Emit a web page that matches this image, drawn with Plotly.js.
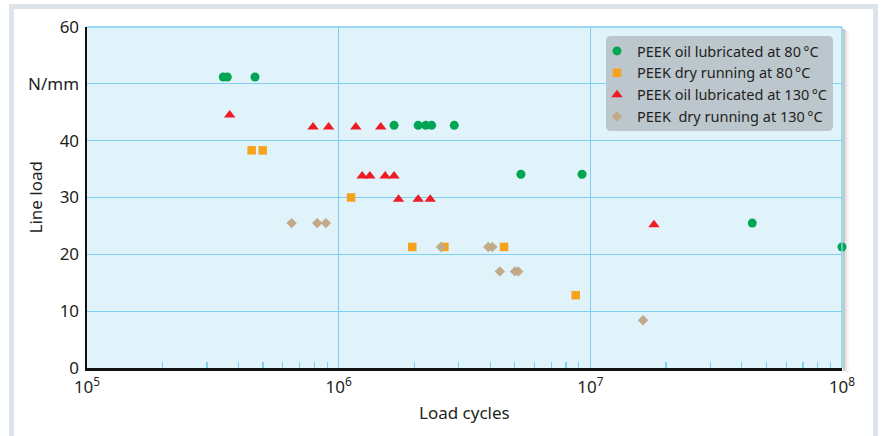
<!DOCTYPE html>
<html>
<head>
<meta charset="utf-8">
<script src="https://cdn.plot.ly/plotly-3.0.1.min.js"></script>
<style>
  html, body { margin: 0; padding: 0; background: #ffffff; width: 884px; height: 436px; overflow: hidden; }
  #frame { position: absolute; left: 9px; top: 4px; width: 869px; height: 460px; box-sizing: border-box;
           border: 5px solid #dde3e8; background: #ffffff; }
  #chart { position: absolute; left: 0; top: 0; width: 884px; height: 436px; }
</style>
</head>
<body>
<div id="frame"></div>
<div id="chart"></div>
<script>
// ---- data ----
const seriesNames = [
  'PEEK oil lubricated at 80\u2009°C',
  'PEEK dry running at 80\u2009°C',
  'PEEK oil lubricated at 130\u2009°C',
  'PEEK  dry running at 130\u2009°C'
];

const oil80X = [3.48e5, 3.61e5, 4.65e5, 1.66e6, 2.07e6, 2.22e6, 2.34e6, 2.88e6, 5.3e6, 9.27e6, 4.4e7, 1.0e8];
const oil80Y = [51.2, 51.2, 51.2, 42.7, 42.7, 42.7, 42.7, 42.7, 34.1, 34.1, 25.5, 21.3];

const dry80X = [4.51e5, 4.99e5, 1.12e6, 1.96e6, 2.63e6, 4.54e6, 8.75e6];
const dry80Y = [38.3, 38.3, 30.0, 21.3, 21.3, 21.3, 12.8];

const oil130X = [3.69e5, 7.91e5, 9.12e5, 1.17e6, 1.47e6, 1.24e6, 1.33e6, 1.53e6, 1.66e6, 1.73e6, 2.07e6, 2.31e6, 1.79e7];
const oil130Y = [44.5, 42.4, 42.4, 42.4, 42.4, 33.8, 33.8, 33.8, 33.8, 29.7, 29.7, 29.7, 25.2];

const dry130X = [6.5e5, 8.22e5, 8.9e5, 2.55e6, 3.93e6, 4.08e6, 4.37e6, 5.02e6, 5.17e6, 1.62e7];
const dry130Y = [25.5, 25.5, 25.5, 21.3, 21.3, 21.3, 17.0, 17.0, 17.0, 8.4];

const xTickVals = [1e5, 1e6, 1e7, 1e8];
const xTickText = ['10<sup>5</sup>', '10<sup>6</sup>', '10<sup>7</sup>', '10<sup>8</sup>'];
const yTickVals = [0, 10, 20, 30, 40, 50, 60];
const yTickText = ['0', '10', '20', '30', '40', 'N/mm', '60'];

// ---- styles ----
const FONT = 'Noto Sans, Open Sans, sans-serif';
const TXT = '#231f20';
const GRID = '#7fcff0';

const minorVals = [];
for (let e = 5; e < 8; e++) for (let m = 2; m <= 9; m++) minorVals.push(m * Math.pow(10, e));

function tr(x, y, name, symbol, color, size) {
  return { x: x, y: y, name: name, type: 'scatter', mode: 'markers', cliponaxis: false,
           marker: { symbol: symbol, color: color, size: size, line: { width: 0 } } };
}

const data = [
  tr(oil80X, oil80Y, seriesNames[0], 'circle', '#00a651', 9),
  tr(dry80X, dry80Y, seriesNames[1], 'square', '#f7a21c', 8.5),
  tr(oil130X, oil130Y, seriesNames[2], 'triangle-up', '#ed1c24', 10),
  tr(dry130X, dry130Y, seriesNames[3], 'diamond', '#c2a988', 8)
];

const PL = 87, PR = 842, PT = 27, PB = 368;
const pw = PR - PL, ph = PB - PT;
const px = v => (v - PL) / pw;          // pixel -> paper x
const py = v => (PB - v) / ph;          // pixel -> paper y

// legend background box (rounded) in pixels
const LB = { l: 606, r: 833, t: 36, b: 131, rad: 5 };
function roundedPath(b) {
  const rx = b.rad / pw, ry = b.rad / ph;
  const l = px(b.l), r = px(b.r), t = py(b.t), bt = py(b.b);
  return `M ${l + rx} ${t} L ${r - rx} ${t} Q ${r} ${t} ${r} ${t - ry} L ${r} ${bt + ry} Q ${r} ${bt} ${r - rx} ${bt} ` +
         `L ${l + rx} ${bt} Q ${l} ${bt} ${l} ${bt + ry} L ${l} ${t - ry} Q ${l} ${t} ${l + rx} ${t} Z`;
}

const layout = {
  width: 884, height: 436,
  margin: { l: PL, r: 884 - PR, t: PT, b: 436 - PB, pad: 0 },
  paper_bgcolor: 'rgba(0,0,0,0)',
  plot_bgcolor: '#e0f2fa',
  showlegend: true,
  font: { family: FONT, color: TXT },
  xaxis: {
    type: 'log', range: [5, 8], autorange: false,
    tickmode: 'array', tickvals: xTickVals, ticktext: xTickText,
    showgrid: true, gridcolor: GRID, gridwidth: 1.2,
    ticks: '', showline: true, linecolor: '#111111', linewidth: 2.5,
    zeroline: false,
    tickfont: { family: FONT, size: 17, color: TXT },
    ticklabelstandoff: 2,
    minor: { tickmode: 'array', tickvals: minorVals, ticks: 'inside', ticklen: 6, tickcolor: GRID, tickwidth: 1.2, showgrid: false }
  },
  yaxis: {
    range: [0, 60], autorange: false,
    tickmode: 'array', tickvals: yTickVals, ticktext: yTickText,
    showgrid: true, gridcolor: GRID, gridwidth: 1.2,
    ticks: '', showline: true, linecolor: '#111111', linewidth: 2.5,
    zeroline: false,
    tickfont: { family: FONT, size: 17, color: TXT },
    ticklabelstandoff: 2
  },
  legend: {
    x: px(597), y: py(35), xanchor: 'left', yanchor: 'top',
    bgcolor: 'rgba(0,0,0,0)', borderwidth: 0,
    font: { family: FONT, size: 14.5, color: TXT },
    tracegroupgap: 0, itemsizing: 'trace', itemwidth: 30
  },
  annotations: [
    { text: 'Line load', xref: 'paper', yref: 'paper', x: px(35), y: 0.5,
      textangle: -90, showarrow: false, xanchor: 'center', yanchor: 'middle',
      font: { family: FONT, size: 17, color: TXT } },
    { text: 'Load cycles', xref: 'paper', yref: 'paper', x: 0.5, y: py(413),
      showarrow: false, xanchor: 'center', yanchor: 'middle',
      font: { family: FONT, size: 17, color: TXT } }
  ],
  shapes: [
    { type: 'line', xref: 'paper', yref: 'paper', x0: 0, x1: 1, y0: 1, y1: 1, line: { color: GRID, width: 1.5 }, layer: 'above' },
    { type: 'line', xref: 'paper', yref: 'paper', x0: 1, x1: 1, y0: 0, y1: 1, line: { color: GRID, width: 1.5 }, layer: 'above' },
    { type: 'rect', xref: 'paper', yref: 'paper', x0: 1 + 1 / pw, x1: 1 + 3 / pw, y0: -3 / ph, y1: 1 - 2 / ph, fillcolor: 'rgba(0,0,0,0.22)', line: { width: 0 }, layer: 'below' },
    { type: 'rect', xref: 'paper', yref: 'paper', x0: 1 + 3 / pw, x1: 1 + 5 / pw, y0: -4 / ph, y1: 1 - 3 / ph, fillcolor: 'rgba(0,0,0,0.10)', line: { width: 0 }, layer: 'below' },
    { type: 'rect', xref: 'paper', yref: 'paper', x0: 1 + 5 / pw, x1: 1 + 7 / pw, y0: -5 / ph, y1: 1 - 4 / ph, fillcolor: 'rgba(0,0,0,0.04)', line: { width: 0 }, layer: 'below' },
    { type: 'path', xref: 'paper', yref: 'paper', path: roundedPath(LB), fillcolor: '#bcc7cd', line: { width: 0 }, layer: 'above' }
  ]
};

Plotly.newPlot('chart', data, layout, { displayModeBar: false, staticPlot: true });
</script>
</body>
</html>
